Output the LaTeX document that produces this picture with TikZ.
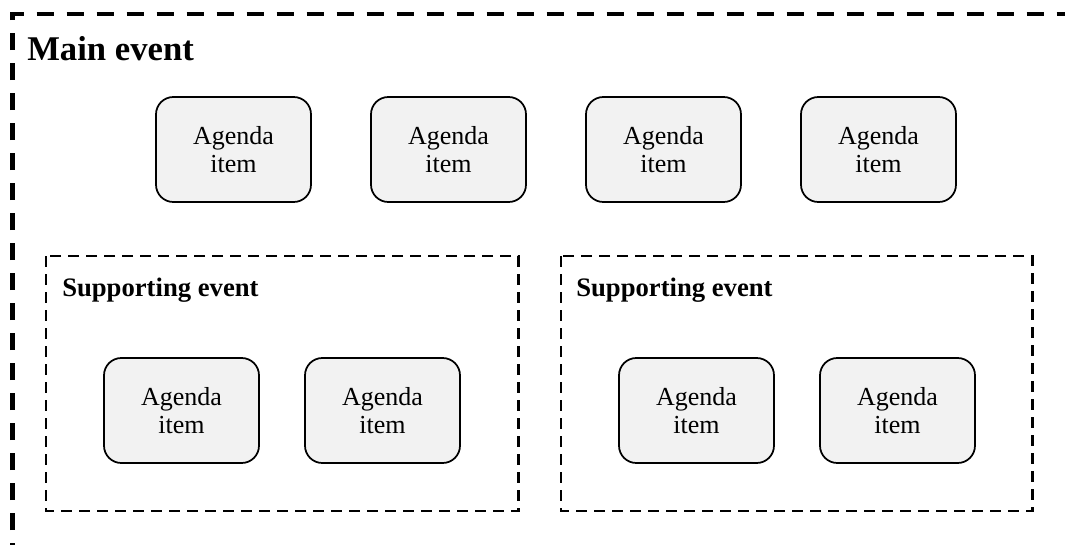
\documentclass[tikz,border=0pt]{standalone}
\usepackage{fontspec}
\setmainfont{Liberation Serif}
\begin{document}
\begin{tikzpicture}[x=0.75pt,y=-0.75pt,
  agenda/.style={draw=black, line width=1.3pt, fill={rgb,255:red,242;green,242;blue,242},
    rounded corners=13pt, minimum width=116.25pt, minimum height=78.75pt, inner sep=0pt,
    align=center, font=\fontsize{19.5}{21}\selectfont},
  mainframe/.style={draw=black, line width=3.5pt, dash pattern=on 12.75pt off 9.75pt},
  subframe/.style={draw=black, line width=2.2pt, dash pattern=on 8pt off 5.5pt},
  maintitle/.style={anchor=base west, inner sep=0pt, font=\fontsize{26}{30}\selectfont\bfseries},
  subtitle/.style={anchor=base west, inner sep=0pt, font=\fontsize{20}{24}\selectfont\bfseries}]
\useasboundingbox (0,0) rectangle (1065,544);
\clip (0,0) rectangle (1065,544);
\draw[mainframe] (12.5,560) -- (12.5,14) -- (1080,14);
\node[maintitle] (mt) at (27,60) {Main event};
\node[agenda] (a1) at (233.5,149.5) {Agenda\\item};
\node[agenda] (a2) at (448.5,149.5) {Agenda\\item};
\node[agenda] (a3) at (663.5,149.5) {Agenda\\item};
\node[agenda] (a4) at (878.5,149.5) {Agenda\\item};
\draw[subframe] (46,256) rectangle (518.5,511);
\draw[subframe] (561,256) rectangle (1032.5,511);
\node[subtitle] (s1) at (62,296) {Supporting event};
\node[subtitle] (s2) at (576,296) {Supporting event};
\node[agenda] (b1) at (181.5,410.5) {Agenda\\item};
\node[agenda] (b2) at (382.5,410.5) {Agenda\\item};
\node[agenda] (b3) at (696.5,410.5) {Agenda\\item};
\node[agenda] (b4) at (897.5,410.5) {Agenda\\item};
\end{tikzpicture}
\end{document}
